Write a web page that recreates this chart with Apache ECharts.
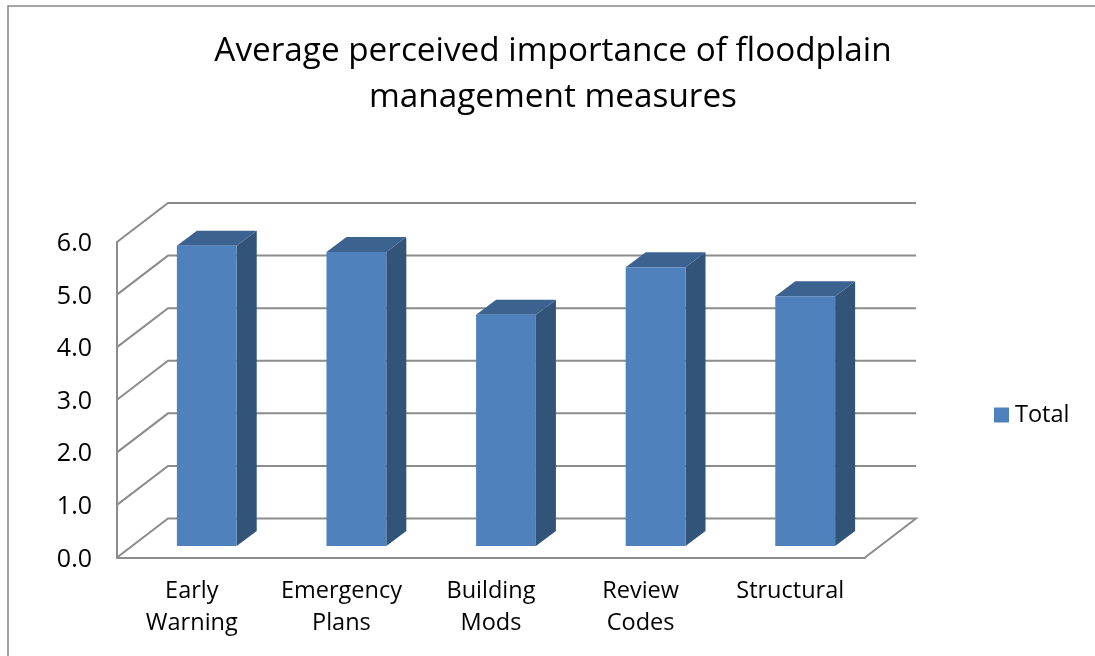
<!DOCTYPE html>
<html><head><meta charset="utf-8">
<style>html,body{margin:0;padding:0;background:#fff}#c{width:1095px;height:656px}</style>
<script src="https://cdn.jsdelivr.net/npm/echarts@6/dist/echarts.min.js"></script></head>
<body><div id="c"></div>
<script>
const categories = ['Early\nWarning','Emergency\nPlans','Building\nMods','Review\nCodes','Structural'];
const totals = [5.71, 5.59, 4.40, 5.30, 4.75];
const ticks = [0,1,2,3,4,5,6];
const titleText = 'Average perceived importance of floodplain\nmanagement measures';

const FONT = '"Open Sans","Noto Sans",sans-serif';
const GRID = '#8c8c8c';
const WALL_DX = 51, WALL_DY = -39;   // depth of the box
const BASE_DX = 15, BASE_DY = -11.5; // bars stand mid floor
const BAR_DX = 20, BAR_DY = -15;     // depth of a bar

const chart = echarts.init(document.getElementById('c'), null, {renderer:'canvas'});

function wall(params, api){
  const cs = params.coordSys;
  const v = api.value(0);
  const y = api.coord([0, v])[1];
  const l = cs.x, r = cs.x + cs.width;
  const pts = v === 0
    ? [[l,y],[l+WALL_DX,y+WALL_DY],[r+WALL_DX,y+WALL_DY],[r,y]]
    : [[l,y],[l+WALL_DX,y+WALL_DY],[r+WALL_DX,y+WALL_DY]];
  return {type:'polyline', shape:{points:pts}, style:{stroke:GRID, lineWidth:2, fill:null}};
}
function bar3d(params, api){
  const i = api.value(0), v = api.value(1);
  const base = api.coord([i,0]), top = api.coord([i,v]);
  const w = api.size([1,0])[0] * 0.4;
  const x0 = base[0] + BASE_DX - w/2, x1 = x0 + w;
  const y0 = top[1] + BASE_DY, y1 = base[1] + BASE_DY;
  return {type:'group', children:[
    {type:'polygon', shape:{points:[[x1,y0],[x1+BAR_DX,y0+BAR_DY],[x1+BAR_DX,y1+BAR_DY],[x1,y1]]}, style:{fill:'#325479'}},
    {type:'polygon', shape:{points:[[x0,y0],[x0+BAR_DX,y0+BAR_DY],[x1+BAR_DX,y0+BAR_DY],[x1,y0]]}, style:{fill:'#3c6290'}},
    {type:'rect', shape:{x:x0,y:y0,width:w,height:y1-y0}, style:{fill:'#4f81bd'}}
  ]};
}

chart.setOption({
  animation:false,
  backgroundColor:'#fff',
  graphic:[{type:'rect', silent:true, z:-1, shape:{x:8,y:6,width:1200,height:800}, style:{fill:'#fff',stroke:'#868686',lineWidth:1.5}}],
  title:{text:titleText, left:548, top:24, textAlign:'center',
    textStyle:{fontFamily:FONT, fontWeight:'normal', fontSize:33.3, lineHeight:46, color:'#000'}},
  legend:{data:['Total'], left:989, top:398, itemWidth:15, itemHeight:15, itemGap:6, icon:'rect',
    textStyle:{fontFamily:FONT, fontSize:23.5, color:'#000', padding:[0,0,0,1]}},
  grid:{left:117, right:230, top:242, bottom:98.5},
  xAxis:{type:'category', data:categories,
    axisLine:{lineStyle:{color:GRID,width:2}}, axisTick:{show:false},
    axisLabel:{fontFamily:FONT, fontSize:23.5, lineHeight:32, color:'#000', margin:18, interval:0}},
  yAxis:{type:'value', min:0, max:6, interval:1,
    axisLine:{show:true, lineStyle:{color:GRID,width:2}}, axisTick:{show:false}, splitLine:{show:false},
    axisLabel:{margin:25, formatter:v=>'{a|'+v.toFixed(1)+'}',
      rich:{a:{fontFamily:FONT, fontSize:25, color:'#000', padding:[4,0,0,0]}}}},
  series:[
    {type:'custom', name:'walls', silent:true, z:1, renderItem:wall, data:ticks.map(t=>[t]), encode:{y:0}},
    {type:'custom', name:'Total', z:2, renderItem:bar3d, itemStyle:{color:'#4f81bd'},
      data:totals.map((v,i)=>[i,v]), encode:{x:0,y:1}}
  ]
});
</script></body></html>
